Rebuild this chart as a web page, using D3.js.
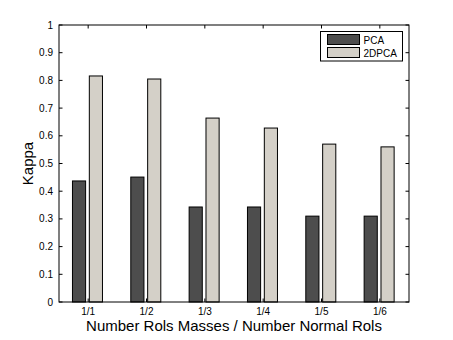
<!DOCTYPE html>
<html><head><meta charset="utf-8">
<script src="https://cdn.jsdelivr.net/npm/d3@7"></script>
<style>body{margin:0;background:#fff}svg{display:block}text{font-family:"Liberation Sans",Arial,Helvetica,sans-serif}</style>
</head><body>
<script>
const categories = ["1/1","1/2","1/3","1/4","1/5","1/6"];
const seriesNames = ["PCA","2DPCA"];
const pcaValues = [0.437,0.451,0.343,0.343,0.310,0.310];
const dpcaValues = [0.816,0.805,0.664,0.628,0.570,0.560];
const yTicks = [0,0.1,0.2,0.3,0.4,0.5,0.6,0.7,0.8,0.9,1];
const colors = ["#4d4d4d","#d4d0c8"];

const W=453,H=340;
const L=59,R=409,T=25,B=302;
const svg=d3.select("body").append("svg").attr("width",W).attr("height",H);
svg.append("rect").attr("width",W).attr("height",H).attr("fill","#fff");

const x=d3.scaleBand().domain(categories).range([L,R]).padding(0);
const y=d3.scaleLinear().domain([0,1]).range([B,T]);
const x1=d3.scaleBand().domain(seriesNames).range([-15.7,14.3]).paddingInner(0.22);
const tl=3.5;

const rows=categories.map((c,i)=>({cat:c,vals:[pcaValues[i],dpcaValues[i]]}));

// ticks (inward)
const g=svg.append("g");
categories.forEach(c=>{
  const cx=x(c)+x.bandwidth()/2;
  g.append("line").attr("x1",cx).attr("x2",cx).attr("y1",B).attr("y2",B-tl).attr("stroke","#000");
  g.append("line").attr("x1",cx).attr("x2",cx).attr("y1",T).attr("y2",T+tl).attr("stroke","#000");
});
yTicks.forEach(t=>{
  g.append("line").attr("x1",L).attr("x2",L+tl).attr("y1",y(t)).attr("y2",y(t)).attr("stroke","#000");
  g.append("line").attr("x1",R).attr("x2",R-tl).attr("y1",y(t)).attr("y2",y(t)).attr("stroke","#000");
});

// bars
rows.forEach(r=>{
  const cx=x(r.cat)+x.bandwidth()/2;
  r.vals.forEach((v,j)=>{
    svg.append("rect")
      .attr("x",cx+x1(seriesNames[j]))
      .attr("y",y(v))
      .attr("width",x1.bandwidth())
      .attr("height",y(0)-y(v))
      .attr("fill",colors[j]).attr("stroke","#000").attr("stroke-width",1);
  });
});

// box
svg.append("rect").attr("x",L).attr("y",T).attr("width",R-L).attr("height",B-T)
  .attr("fill","none").attr("stroke","#000").attr("stroke-width",1);

// tick labels
yTicks.forEach(t=>{
  svg.append("text").attr("x",L-6).attr("y",y(t)+3.5).attr("text-anchor","end")
    .attr("font-size",10).text(d3.format("~g")(t));
});
categories.forEach(c=>{
  svg.append("text").attr("x",x(c)+x.bandwidth()/2).attr("y",B+13).attr("text-anchor","middle")
    .attr("font-size",10).text(c);
});

// axis labels
svg.append("text").attr("x",(L+R)/2).attr("y",331).attr("text-anchor","middle")
  .attr("font-size",15).text("Number Rols Masses / Number Normal Rols");
svg.append("text").attr("transform",`translate(33,${(T+B)/2}) rotate(-90)`).attr("text-anchor","middle")
  .attr("font-size",15).text("Kappa");

// legend
const lg=svg.append("g");
lg.append("rect").attr("x",320.5).attr("y",31.5).attr("width",82).attr("height",29.5)
  .attr("fill","#fff").attr("stroke","#000");
seriesNames.forEach((s,j)=>{
  lg.append("rect").attr("x",327.5).attr("y",34.5+j*13).attr("width",32).attr("height",10)
    .attr("fill",colors[j]).attr("stroke","#000");
  lg.append("text").attr("x",363.5).attr("y",43.5+j*13).attr("font-size",10).text(s);
});
</script>
</body></html>
